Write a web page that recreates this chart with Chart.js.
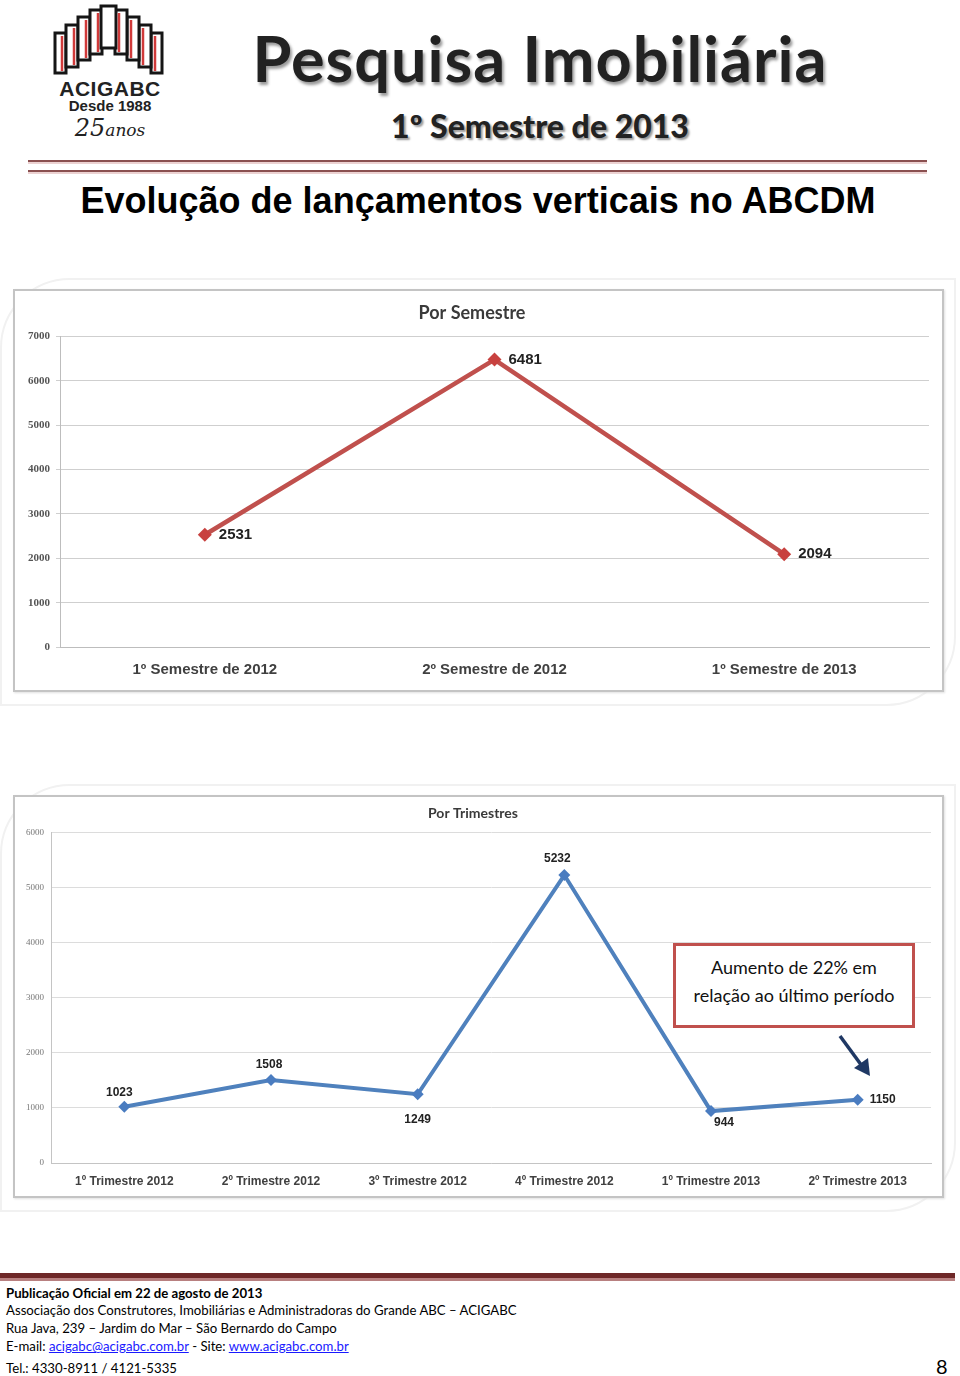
<!DOCTYPE html>
<html>
<head>
<meta charset="utf-8">
<script src="https://cdn.jsdelivr.net/npm/chart.js@4.4.0/dist/chart.umd.min.js"></script>
<style>
body { margin: 0; background: #fff; width: 960px; height: 1376px; position: relative; overflow: hidden; font-family: "Liberation Sans", Arial, sans-serif; }
.abs { position: absolute; }
.logoTxt { left: 48px; width: 124px; text-align: center; font-weight: bold; color: #222; }
.head1 { left: 200px; width: 680px; top: 20px; text-align: center; font-family: Lato, sans-serif; font-weight: 700; font-size: 63px; color: #222; text-shadow: 2px 3px 3px #9a9a9a; letter-spacing: 1px; }
.head2 { left: 300px; width: 480px; top: 106px; text-align: center; font-family: Lato, sans-serif; font-weight: 900; font-size: 32px; color: #222; text-shadow: 2px 2px 2px #9a9a9a; }
.rule { left: 28px; width: 899px; height: 2px; background: #8a5050; border-bottom: 2px solid #ecd2d2; }
.title { left: 0; width: 956px; top: 180px; text-align: center; font-weight: bold; font-size: 36px; color: #000; }
.shell { border: 2px solid #f1f1f1; border-radius: 70px 0 70px 0; }
.frame { border: 2px solid #c4c4c4; background: #fff; box-shadow: 1px 1px 2px #e0e0e0; }
.note { left: 673px; top: 943px; width: 236px; height: 72px; border: 3px solid #c0504d; background: #fff; font-family: Lato, "Open Sans", sans-serif; font-size: 18px; line-height: 28px; text-align: center; color: #111; padding-top: 7px; box-sizing: content-box; }
.foot { left: 6px; font-family: Lato, "Open Sans", sans-serif; font-size: 13.2px; color: #000; }
.foot a { color: #1a1aff; text-decoration: underline; }
</style>
</head>
<body>

<!-- logo -->
<svg class="abs" style="left:0;top:0" width="200" height="90">
  <g fill="#fff" stroke="#151515" stroke-width="3">
    <rect x="55" y="33" width="11" height="40"/>
    <rect x="151" y="33" width="11" height="40"/>
    <rect x="66" y="25" width="12" height="42"/>
    <rect x="139" y="25" width="12" height="42"/>
    <rect x="78" y="17" width="12" height="43"/>
    <rect x="127" y="17" width="12" height="43"/>
    <rect x="90" y="10" width="12" height="44"/>
    <rect x="115" y="10" width="12" height="44"/>
    <rect x="101" y="6" width="15" height="42"/>
  </g>
  <g stroke="#d03a3a" stroke-width="2.5">
    <line x1="62" y1="36" x2="62" y2="71"/><line x1="155" y1="36" x2="155" y2="71"/>
    <line x1="74" y1="28" x2="74" y2="65"/><line x1="143" y1="28" x2="143" y2="65"/>
    <line x1="86" y1="20" x2="86" y2="58"/><line x1="131" y1="20" x2="131" y2="58"/>
    <line x1="98" y1="13" x2="98" y2="52"/><line x1="119" y1="13" x2="119" y2="52"/>
  </g>
</svg>
<div class="abs logoTxt" style="top:77px;font-size:21px;letter-spacing:0.5px">ACIGABC</div>
<div class="abs logoTxt" style="top:97px;font-size:15px">Desde 1988</div>
<div class="abs logoTxt" style="top:114px;font-family:'DejaVu Serif',serif;font-style:italic;font-weight:normal;font-size:24px">25<span style="font-size:17px">anos</span></div>

<div class="abs head1">Pesquisa Imobiliária</div>
<div class="abs head2">1º Semestre de 2013</div>
<div class="abs rule" style="top:160px"></div>
<div class="abs rule" style="top:170px"></div>
<div class="abs title">Evolução de lançamentos verticais no ABCDM</div>

<!-- chart 1 -->
<div class="abs shell" style="left:0;top:278px;width:952px;height:424px"></div>
<div class="abs frame" style="left:13px;top:289px;width:927px;height:399px"></div>
<div class="abs" style="left:15px;top:291px;width:927px;height:399px"><canvas id="semChart"></canvas></div>

<!-- chart 2 -->
<div class="abs shell" style="left:0;top:784px;width:952px;height:424px"></div>
<div class="abs frame" style="left:13px;top:795px;width:927px;height:399px"></div>
<div class="abs" style="left:15px;top:797px;width:927px;height:399px"><canvas id="triChart"></canvas></div>

<div class="abs note">Aumento de 22% em<br>relação ao último período</div>
<svg class="abs" style="left:830px;top:1030px" width="50" height="55">
  <line x1="10" y1="6" x2="32" y2="36" stroke="#1f3864" stroke-width="3.5"/>
  <polygon points="24,38 40,46 38,28" fill="#1f3864"/>
</svg>

<!-- footer -->
<div class="abs" style="left:0;top:1273px;width:955px;height:5px;background:#6e2828;border-bottom:3px solid #b88080"></div>
<div class="abs foot" style="top:1285px;font-weight:bold">Publicação Oficial em 22 de agosto de 2013</div>
<div class="abs foot" style="top:1302px">Associação dos Construtores, Imobiliárias e Administradoras do Grande ABC – ACIGABC</div>
<div class="abs foot" style="top:1320px">Rua Java, 239 – Jardim do Mar – São Bernardo do Campo</div>
<div class="abs foot" style="top:1338px">E-mail: <a>acigabc@acigabc.com.br</a> - Site: <a>www.acigabc.com.br</a></div>
<div class="abs foot" style="top:1360px">Tel.: 4330-8911 / 4121-5335</div>
<div class="abs" style="left:936px;top:1354px;font-family:Lato,sans-serif;font-size:20px">8</div>

<script>
// semesters
let semLabels = ["1º Semestre de 2012", "2º Semestre de 2012", "1º Semestre de 2013"];
let semValues = [2531, 6481, 2094];
let semMax = 7000;

// quarters
let triLabels = ["1º Trimestre 2012", "2º Trimestre 2012", "3º Trimestre 2012", "4º Trimestre 2012", "1º Trimestre 2013", "2º Trimestre 2013"];
let triValues = [1023, 1508, 1249, 5232, 944, 1150];
let triMax = 6000;

let tickStep = 1000;

// where each value label sits relative to its point
let semLabelPos = ["right", "right", "right"];
let triLabelPos = ["above", "above", "below", "above", "below", "right"];
let triLabelDx = [-5, -2, 0, -7, 13, 0];
let triLabelGap = [8, 9, 19, 10, 6, 12];

Chart.defaults.font.family = "'Liberation Sans', Arial, sans-serif";
Chart.defaults.animation = false;

const pointValues = {
    id: 'pointValues',
    afterDatasetsDraw(chart, args, opts) {
        let ctx = chart.ctx;
        let data = chart.data.datasets[0].data;
        let pts = chart.getDatasetMeta(0).data;
        ctx.save();
        ctx.font = opts.font;
        ctx.fillStyle = opts.color;
        for (let i = 0; i < pts.length; i++) {
            let pos = opts.positions[i];
            let gap = opts.gaps ? opts.gaps[i] : opts.gap;
            let x = pts[i].x + (opts.dx ? opts.dx[i] : 0);
            let y = pts[i].y;
            if (pos === 'right') {
                ctx.textAlign = 'left'; ctx.textBaseline = 'middle'; x += gap;
            } else if (pos === 'above') {
                ctx.textAlign = 'center'; ctx.textBaseline = 'bottom'; y -= gap;
            } else {
                ctx.textAlign = 'center'; ctx.textBaseline = 'top'; y += gap;
            }
            ctx.fillText(data[i], x, y);
        }
        ctx.restore();
    }
};

new Chart(document.getElementById('semChart'), {
    type: 'line',
    data: {
        labels: semLabels,
        datasets: [{
            data: semValues,
            borderColor: '#c0504d',
            backgroundColor: '#c8413f',
            borderWidth: 4.5,
            pointStyle: 'rectRot',
            pointRadius: 7,
            pointBorderWidth: 0,
            tension: 0
        }]
    },
    options: {
        responsive: true,
        maintainAspectRatio: false,
        layout: { padding: { right: 13 } },
        plugins: {
            legend: { display: false },
            tooltip: { enabled: false },
            title: {
                display: true,
                text: 'Por Semestre',
                color: '#3a3a3a',
                font: { family: 'Lato, sans-serif', size: 18, weight: 'bold' },
                padding: { top: 11, bottom: 13 }
            },
            pointValues: { font: "bold 15px 'Liberation Sans', Arial", color: '#222', positions: semLabelPos, gap: 14 }
        },
        scales: {
            x: {
                offset: true,
                grid: { display: false, drawTicks: false },
                border: { display: true, color: '#bdbdbd' },
                ticks: { color: '#404040', font: { size: 15, weight: 'bold' }, padding: 14, maxRotation: 0 },
                afterFit: s => { s.height = 43; }
            },
            y: {
                min: 0,
                max: semMax,
                grid: { color: '#cfcfcf', tickLength: 4 },
                border: { color: '#bdbdbd' },
                ticks: { stepSize: tickStep, callback: v => String(v), color: '#555', padding: 6, font: { family: "'Liberation Serif', serif", size: 11, weight: 'bold' } },
                afterFit: s => { s.width = 45; }
            }
        }
    },
    plugins: [pointValues]
});

new Chart(document.getElementById('triChart'), {
    type: 'line',
    data: {
        labels: triLabels,
        datasets: [{
            data: triValues,
            borderColor: '#4f81bd',
            backgroundColor: '#4a7cc0',
            borderWidth: 4,
            pointStyle: 'rectRot',
            pointRadius: 6,
            pointBorderWidth: 0,
            tension: 0
        }]
    },
    options: {
        responsive: true,
        maintainAspectRatio: false,
        layout: { padding: { right: 11 } },
        plugins: {
            legend: { display: false },
            tooltip: { enabled: false },
            title: {
                display: true,
                text: 'Por Trimestres',
                color: '#3a3a3a',
                font: { family: 'Lato, sans-serif', size: 14, weight: 'bold' },
                padding: { top: 8, bottom: 11 }
            },
            pointValues: { font: "bold 12px 'Liberation Sans', Arial", color: '#222', positions: triLabelPos, gaps: triLabelGap, dx: triLabelDx }
        },
        scales: {
            x: {
                offset: true,
                grid: { display: false, drawTicks: false },
                border: { display: true, color: '#c4c4c4' },
                ticks: { color: '#404040', font: { size: 12, weight: 'bold' }, padding: 11, maxRotation: 0 },
                afterFit: s => { s.height = 33; }
            },
            y: {
                min: 0,
                max: triMax,
                grid: { color: '#dcdcdc', drawTicks: false },
                border: { color: '#c4c4c4' },
                ticks: { stepSize: tickStep, callback: v => String(v), color: '#777', padding: 7, font: { family: "'Liberation Serif', serif", size: 9 } },
                afterFit: s => { s.width = 36; }
            }
        }
    },
    plugins: [pointValues]
});
</script>
</body>
</html>
